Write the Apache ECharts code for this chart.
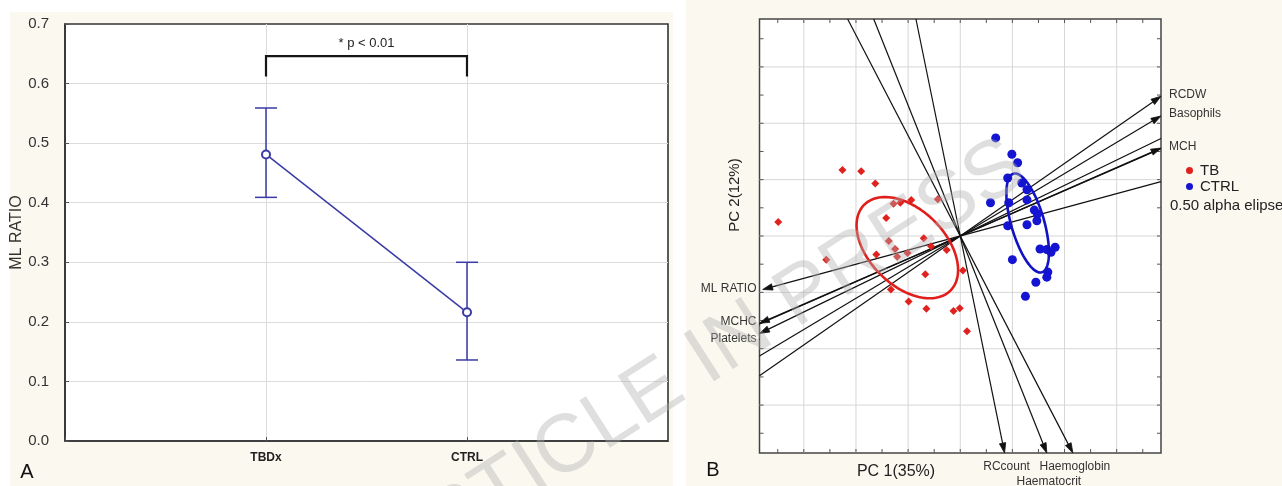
<!DOCTYPE html>
<html><head><meta charset="utf-8">
<script src="https://cdn.jsdelivr.net/npm/echarts@6/dist/echarts.min.js"></script>
<style>html,body{margin:0;padding:0;background:#fff}#c{width:1282px;height:486px}</style>
</head><body><div id="c"></div>
<script>
// ---------- Panel A data ----------
const groups = ['TBDx', 'CTRL'];
const groupPos = [1, 2];
const mlMean = [0.481, 0.216];
const mlUpper = [0.559, 0.300];
const mlLower = [0.409, 0.136];
const sigBracketX = [1, 2];
const sigBracketY = [0.612, 0.646];
const sigText = '* p < 0.01';
const sigTextY = 0.668;

// ---------- Panel B data ----------
const tbX = [-2.26, -1.90, -1.63, -3.49, -1.42, -1.28, -1.15, -0.94, -0.43, -0.70, -1.37, -1.25, -1.21, -1.01, -1.61, -0.56, -0.26, -2.57, -0.67, 0.05, -1.33, -0.99, -0.65, -0.13, -0.01, 0.13];
const tbY = [1.17, 1.15, 0.93, 0.25, 0.32, 0.57, 0.59, 0.64, 0.65, -0.04, -0.09, -0.23, -0.37, -0.30, -0.33, -0.18, -0.25, -0.42, -0.68, -0.61, -0.95, -1.16, -1.29, -1.33, -1.28, -1.69];
const ctrlX = [0.68, 0.99, 1.10, 0.91, 1.18, 1.28, 0.58, 0.93, 1.28, 1.42, 1.48, 1.47, 0.91, 1.28, 1.53, 1.66, 1.74, 1.82, 1.00, 1.68, 1.66, 1.45, 1.25];
const ctrlY = [1.74, 1.45, 1.30, 1.03, 0.94, 0.82, 0.59, 0.59, 0.64, 0.46, 0.39, 0.27, 0.18, 0.20, -0.23, -0.24, -0.29, -0.20, -0.42, -0.64, -0.73, -0.82, -1.07];
const varNames = ['RCDW', 'Basophils', 'MCH', 'MCHC', 'Platelets', 'ML RATIO', 'RCcount', 'Haematocrit', 'Haemoglobin'];
const loadX = [3.85, 3.85, 3.85, -3.85, -3.85, -3.79, 0.85, 1.66, 2.16];
const loadY = [2.48, 2.13, 1.56, -1.55, -1.73, -0.95, -3.85, -3.85, -3.85];
// ellipse: centre (x,y), semi-axis vector U, semi-axis vector V
const ellipseTB = [-1.015, -0.207, 0.826, -0.762, 0.515, 0.475];
const ellipseCTRL = [1.293, 0.231, 0.272, -0.875, 0.304, 0.080];
const pcRange = 3.85;
const pcGrid = [-3, -2, -1, 0, 1, 2, 3];
const pcMinor = [-3.5, -2.5, -1.5, -0.5, 0.5, 1.5, 2.5, 3.5];

// ---------- layout / style ----------
const labelDy = [-2, -2, -1, -1.5, 5, -1, 0, 15, 0];
const SANS = '"Liberation Sans", Arial, sans-serif';
const NARROW = '"Liberation Sans Narrow", "Liberation Sans", Arial, sans-serif';
const BLUEA = '#3a3aa6';

const chart = echarts.init(document.getElementById('c'), null, {renderer: 'canvas'});

function txt(s, x, y, font, fill, align, valign, extra) {
  return Object.assign({type: 'text', x: x, y: y, style: {text: s, font: font, fill: fill,
    align: align, verticalAlign: valign, textAlign: align, textVerticalAlign: valign}}, extra || {});
}

const option = {
  backgroundColor: '#ffffff',
  animation: false,
  grid: [
    {left: 65, top: 24, width: 603, height: 417, show: true, backgroundColor: '#fff', borderColor: '#333', borderWidth: 1.6},
    {left: 759.5, top: 19, width: 401.5, height: 434, show: true, backgroundColor: '#fff', borderColor: '#444', borderWidth: 1.5}
  ],
  xAxis: [
    {type: 'value', gridIndex: 0, min: 0, max: 3, interval: 1,
     axisLine: {show: true, lineStyle: {color: '#333', width: 1.6}},
     axisTick: {show: true, inside: true, length: 4, lineStyle: {color: '#555'}},
     splitLine: {show: true, showMinLine: false, showMaxLine: false, lineStyle: {color: '#dcdcdc', width: 1}},
     axisLabel: {margin: 11, color: '#222', fontFamily: NARROW, fontWeight: 'bold', fontSize: 12,
       formatter: v => { const i = groupPos.indexOf(v); return i >= 0 ? groups[i] : ''; }}},
    {type: 'value', gridIndex: 1, min: -pcRange, max: pcRange, show: false}
  ],
  yAxis: [
    {type: 'value', gridIndex: 0, min: 0, max: 0.7, interval: 0.1,
     name: 'ML RATIO', nameLocation: 'middle', nameGap: 33,
     nameTextStyle: {fontFamily: SANS, fontSize: 16, color: '#333'},
     axisLine: {show: true, lineStyle: {color: '#333', width: 1.6}},
     axisTick: {show: true, inside: true, length: 4, lineStyle: {color: '#555'}},
     splitLine: {show: true, showMinLine: false, showMaxLine: false, lineStyle: {color: '#dcdcdc', width: 1}},
     axisLabel: {margin: 16, color: '#333', fontFamily: NARROW, fontSize: 15, formatter: v => v.toFixed(1)}},
    {type: 'value', gridIndex: 1, min: -pcRange, max: pcRange, show: false}
  ],
  legend: {
    orient: 'vertical', left: 1181, top: 158, itemGap: 1, itemWidth: 7, itemHeight: 7,
    textStyle: {fontFamily: SANS, fontSize: 15, color: '#222', padding: [0, 0, 0, 2]},
    data: [{name: 'TB', icon: 'circle'}, {name: 'CTRL', icon: 'circle'}]
  },
  graphic: {elements: [
    {type: 'rect', z: -10, shape: {x: 10, y: 12, width: 663, height: 474}, style: {fill: '#fbf8ef'}},
    {type: 'rect', z: -10, shape: {x: 686, y: 0, width: 596, height: 486}, style: {fill: '#fbf8ef'}},
    txt('A', 27, 472, '20px ' + SANS, '#111', 'center', 'middle'),
    txt('B', 713, 470, '20px ' + SANS, '#111', 'center', 'middle'),
    txt('PC 1(35%)', 896, 472, '16px ' + SANS, '#222', 'center', 'middle'),
    txt('PC 2(12%)', 735, 195, '15px ' + SANS, '#222', 'center', 'middle', {rotation: Math.PI / 2}),
    txt('0.50 alpha elipses', 1170, 206, '15px ' + SANS, '#222', 'left', 'middle'),
    txt('ARTICLE IN PRESS', 702, 362, '82px ' + SANS, 'rgba(175,175,175,0.40)', 'center', 'middle',
        {rotation: 0.57, z: 100})
  ]},
  series: [
    // Panel A mean line
    {type: 'line', name: 'mean', xAxisIndex: 0, yAxisIndex: 0, z: 5,
     data: groupPos.map((x, i) => [x, mlMean[i]]),
     symbol: 'emptyCircle', symbolSize: 8,
     itemStyle: {color: BLUEA, borderWidth: 1.3}, lineStyle: {color: BLUEA, width: 1.5}},
    // Panel A error bars
    {type: 'custom', name: 'err', xAxisIndex: 0, yAxisIndex: 0, z: 4,
     data: groupPos.map((x, i) => [x, mlLower[i], mlUpper[i]]),
     renderItem: (p, api) => {
       const t = api.coord([api.value(0), api.value(2)]);
       const b = api.coord([api.value(0), api.value(1)]);
       const st = {stroke: BLUEA, lineWidth: 1.5};
       return {type: 'group', children: [
         {type: 'line', shape: {x1: t[0], y1: t[1], x2: b[0], y2: b[1]}, style: st},
         {type: 'line', shape: {x1: t[0] - 11, y1: t[1], x2: t[0] + 11, y2: t[1]}, style: st},
         {type: 'line', shape: {x1: b[0] - 11, y1: b[1], x2: b[0] + 11, y2: b[1]}, style: st}
       ]};
     }},
    // Panel A significance bracket
    {type: 'custom', name: 'sig', xAxisIndex: 0, yAxisIndex: 0, z: 4,
     data: [[sigBracketX[0], sigBracketX[1], sigBracketY[0], sigBracketY[1], sigTextY]],
     renderItem: (p, api) => {
       const a = api.coord([api.value(0), api.value(2)]);
       const b = api.coord([api.value(0), api.value(3)]);
       const c = api.coord([api.value(1), api.value(3)]);
       const d = api.coord([api.value(1), api.value(2)]);
       const m = api.coord([(api.value(0) + api.value(1)) / 2, api.value(4)]);
       return {type: 'group', children: [
         {type: 'polyline', shape: {points: [a, b, c, d]}, style: {stroke: '#151515', lineWidth: 2.2, fill: null}},
         txt(sigText, m[0], m[1], '13px ' + NARROW, '#222', 'center', 'middle')
       ]};
     }},
    // Panel B grid lines & ticks
    {type: 'custom', name: 'pcgrid', xAxisIndex: 1, yAxisIndex: 1, z: 1, silent: true,
     data: pcGrid.map(v => [v]).concat(pcMinor.map(v => [v, 1])),
     renderItem: (p, api) => {
       const v = api.value(0);
       const minor = api.value(1) === 1;
       const cs = p.coordSys;
       const px = api.coord([v, 0])[0];
       const py = api.coord([0, v])[1];
       const tk = {stroke: '#555', lineWidth: 1};
       const ch = [
         {type: 'line', shape: {x1: px, y1: cs.y + cs.height, x2: px, y2: cs.y + cs.height - 4}, style: tk},
         {type: 'line', shape: {x1: px, y1: cs.y, x2: px, y2: cs.y + 4}, style: tk},
         {type: 'line', shape: {x1: cs.x, y1: py, x2: cs.x + 4, y2: py}, style: tk},
         {type: 'line', shape: {x1: cs.x + cs.width, y1: py, x2: cs.x + cs.width - 4, y2: py}, style: tk}
       ];
       if (!minor) {
         const gs = {stroke: '#d6d6d6', lineWidth: 1};
         ch.unshift(
           {type: 'line', shape: {x1: px, y1: cs.y, x2: px, y2: cs.y + cs.height}, style: gs},
           {type: 'line', shape: {x1: cs.x, y1: py, x2: cs.x + cs.width, y2: py}, style: gs});
       }
       return {type: 'group', children: ch};
     }},
    // Panel B loading vectors
    {type: 'custom', name: 'loadings', xAxisIndex: 1, yAxisIndex: 1, z: 3, silent: true,
     data: varNames.map((n, i) => [loadX[i], loadY[i], i]),
     renderItem: (p, api) => {
       const lx = api.value(0), ly = api.value(1), i = api.value(2);
       const cs = p.coordSys;
       const k = Math.min(pcRange / Math.abs(lx), pcRange / Math.abs(ly));
       const tip = api.coord([lx, ly]);
       const far = api.coord([-lx * k, -ly * k]);
       let dx = tip[0] - far[0], dy = tip[1] - far[1];
       const L = Math.hypot(dx, dy); dx /= L; dy /= L;
       const hl = 10, hw = 3.2;
       const bx = tip[0] - dx * hl, by = tip[1] - dy * hl;
       const head = [[tip[0], tip[1]], [bx - dy * hw, by + dx * hw], [bx + dy * hw, by - dx * hw]];
       let lab;
       const f = '12px ' + SANS, col = '#333';
       if (Math.abs(lx) >= pcRange - 0.1) {
         if (lx > 0) lab = txt(varNames[i], cs.x + cs.width + 8, tip[1] + labelDy[i], f, col, 'left', 'middle');
         else lab = txt(varNames[i], cs.x - 3, tip[1] + labelDy[i], f, col, 'right', 'middle');
       } else {
         lab = txt(varNames[i], tip[0] + 2, cs.y + cs.height + 14 + labelDy[i], f, col, 'center', 'middle');
       }
       return {type: 'group', children: [
         {type: 'line', shape: {x1: far[0], y1: far[1], x2: bx, y2: by}, style: {stroke: '#111', lineWidth: 1.2}},
         {type: 'polygon', shape: {points: head}, style: {fill: '#111', stroke: '#111', lineWidth: 0.8}},
         lab
       ]};
     }},
    // TB points
    {type: 'scatter', name: 'TB', xAxisIndex: 1, yAxisIndex: 1, z: 4,
     symbol: 'diamond', symbolSize: 8, itemStyle: {color: '#e0221f', opacity: 1},
     data: tbX.map((x, i) => [x, tbY[i]])},
    // CTRL points
    {type: 'scatter', name: 'CTRL', xAxisIndex: 1, yAxisIndex: 1, z: 4,
     symbol: 'circle', symbolSize: 9, itemStyle: {color: '#1414d2', opacity: 1},
     data: ctrlX.map((x, i) => [x, ctrlY[i]])},
    // 0.50 alpha ellipses
    {type: 'custom', name: 'ellipses', xAxisIndex: 1, yAxisIndex: 1, z: 5, silent: true,
     data: [ellipseTB.concat([0]), ellipseCTRL.concat([1])],
     renderItem: (p, api) => {
       const e = [0, 1, 2, 3, 4, 5].map(j => api.value(j));
       const pts = [];
       for (let s = 0; s <= 120; s++) {
         const t = s / 120 * Math.PI * 2;
         pts.push(api.coord([e[0] + e[2] * Math.cos(t) + e[4] * Math.sin(t),
                             e[1] + e[3] * Math.cos(t) + e[5] * Math.sin(t)]));
       }
       return {type: 'polyline', shape: {points: pts},
         style: {stroke: api.value(6) === 0 ? '#e01f1c' : '#1212c4', lineWidth: 2.6, fill: null}};
     }}
  ]
};
chart.setOption(option);
</script>
</body></html>
